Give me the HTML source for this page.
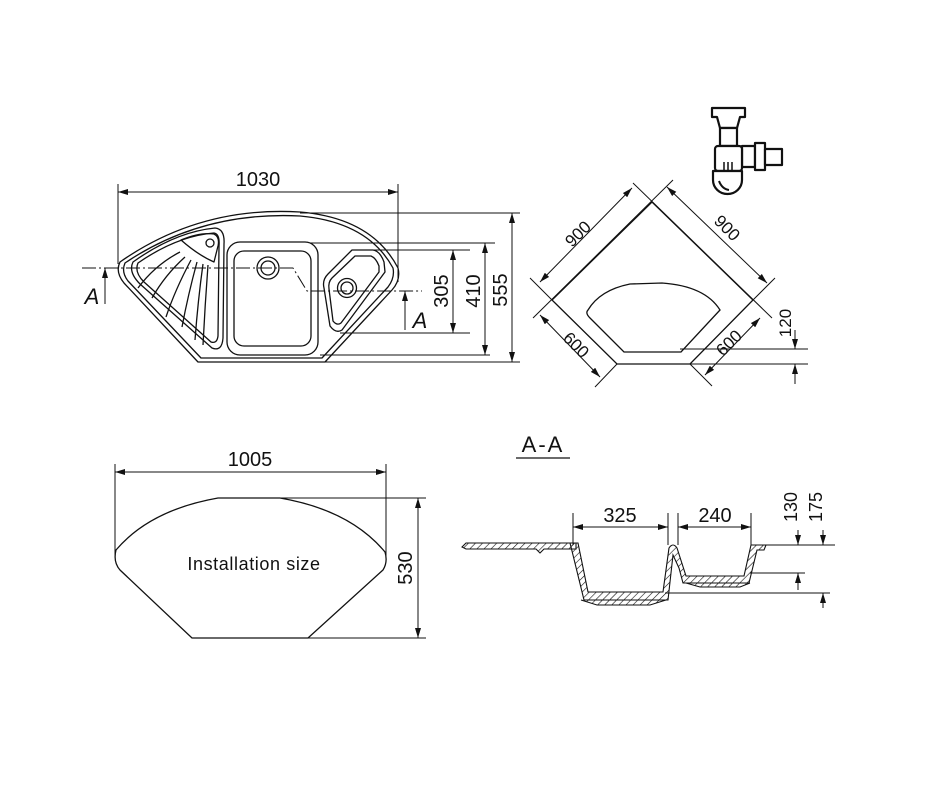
<!DOCTYPE html>
<html><head><meta charset="utf-8"><style>
html,body{margin:0;padding:0;background:#fff;width:928px;height:806px;overflow:hidden}
svg text{font-family:"Liberation Sans",sans-serif;fill:#111}
</style></head><body>
<svg width="928" height="806" viewBox="0 0 928 806" xmlns="http://www.w3.org/2000/svg">
<defs>
<marker id="ar" viewBox="0 0 10 6" refX="10" refY="3" markerWidth="10" markerHeight="6" orient="auto-start-reverse" markerUnits="userSpaceOnUse">
<path d="M0,0 L10,3 L0,6 Z" fill="#111"/></marker>
<pattern id="hat" width="5" height="5" patternUnits="userSpaceOnUse" patternTransform="rotate(45)">
<line x1="0" y1="0" x2="0" y2="5" stroke="#111" stroke-width="1.2"/></pattern>
</defs>
<g fill="none" stroke="#111" stroke-width="1.3" stroke-linejoin="round">
<path d="M120,262 Q200,206 300,212 Q372,218 398,268 Q401,280 392,290 L325,362 L198,362 L124,283 Q115,272 120,262 Z"/>
<path d="M125,263 Q202,211 300,216 Q368,222 393,268 Q395,278 388,287 L322,358 L201,358 L128,281 Q121,272 125,263 Z"/>
<path d="M133,262 Q175,232 215,228 Q225,229 224,244 L223,338 Q222,352 212,348 L140,284 Q128,272 133,262 Z"/>
<path d="M138,263 Q177,236 214,233 Q220,234 219,246 L218,336 Q217,344 211,342 L144,282 Q134,272 138,263 Z"/>
<path d="M181,240 Q200,232 214,234 Q220,237 218,246 L214,262 Q198,255 181,240 Z"/>
<circle cx="210" cy="243" r="4"/>
<path d="M180,252 Q155,265 138,288"/>
<path d="M185,257 Q165,275 152,298"/>
<path d="M191,260 Q175,290 166,317"/>
<path d="M197,262 Q188,295 182,327"/>
<path d="M203,264 Q198,300 195,340"/>
<path d="M208,265 Q205,305 203,345"/>
<rect x="227" y="242" width="91" height="113" rx="13"/>
<rect x="234" y="251" width="77" height="95" rx="10"/>
<circle cx="268" cy="268" r="11"/><circle cx="268" cy="268" r="7"/>
<path d="M352,250 L373,250 Q380,251 384,262 L385,272 L342,330 Q336,334 330,326 L324,288 Q322,280 328,274 Z"/>
<path d="M355,256 L371,256 Q376,258 379,266 L379,272 L341,323 Q337,326 333,321 L329,289 Q328,282 332,278 Z"/>
<circle cx="347" cy="288" r="9.5"/><circle cx="347" cy="288" r="6"/>
<path d="M82,268 L293,268 L307,291 L422,291" stroke-dasharray="14,3,2,3" stroke-width="1"/>
</g>
<g stroke="#111" stroke-width="1" fill="none">
<line x1="118" y1="184" x2="118" y2="264"/><line x1="398" y1="184" x2="398" y2="282"/>
<line x1="118" y1="192" x2="398" y2="192" marker-start="url(#ar)" marker-end="url(#ar)"/>
<line x1="300" y1="213" x2="520" y2="213"/><line x1="320" y1="362" x2="520" y2="362"/>
<line x1="512" y1="213" x2="512" y2="362" marker-start="url(#ar)" marker-end="url(#ar)"/>
<line x1="310" y1="243" x2="495" y2="243"/><line x1="320" y1="355" x2="490" y2="355"/>
<line x1="485" y1="243" x2="485" y2="355" marker-start="url(#ar)" marker-end="url(#ar)"/>
<line x1="368" y1="250" x2="470" y2="250"/><line x1="340" y1="333" x2="470" y2="333"/>
<line x1="453" y1="250" x2="453" y2="333" marker-start="url(#ar)" marker-end="url(#ar)"/>
<line x1="105" y1="304" x2="105" y2="268" marker-end="url(#ar)"/>
<line x1="405" y1="330" x2="405" y2="291" marker-end="url(#ar)"/>
</g>
<g font-size="20">
<text x="258" y="186" text-anchor="middle">1030</text>
<text x="92" y="304" text-anchor="middle" font-style="italic" font-size="22">A</text>
<text x="420" y="328" text-anchor="middle" font-style="italic" font-size="22">A</text>
<text transform="translate(448,291) rotate(-90)" text-anchor="middle">305</text>
<text transform="translate(480,291) rotate(-90)" text-anchor="middle">410</text>
<text transform="translate(507,290) rotate(-90)" text-anchor="middle">555</text>
</g>
<g fill="none" stroke="#111" stroke-width="1.3">
<path d="M652,202 L753,300 L690,364 L617,364 L552,300 Z"/>
<path d="M588,310 Q600,290 630,284 L662,283 Q705,286 720,310 L681,352 L624,352 L590,318 Q585,313 588,310 Z"/>
</g>
<g stroke="#111" stroke-width="1" fill="none">
<line x1="673" y1="180" x2="533" y2="318"/>
<line x1="633" y1="183" x2="772" y2="318"/>
<line x1="552" y1="300" x2="530" y2="278"/>
<line x1="753" y1="300" x2="775" y2="278"/>
<line x1="617" y1="364" x2="595" y2="387"/>
<line x1="690" y1="364" x2="712" y2="386"/>
<line x1="540" y1="282" x2="632" y2="188" marker-start="url(#ar)" marker-end="url(#ar)"/>
<line x1="667" y1="187" x2="767" y2="283" marker-start="url(#ar)" marker-end="url(#ar)"/>
<line x1="540" y1="315" x2="600" y2="377" marker-start="url(#ar)" marker-end="url(#ar)"/>
<line x1="760" y1="318" x2="705" y2="375" marker-start="url(#ar)" marker-end="url(#ar)"/>
<line x1="680" y1="349" x2="808" y2="349"/><line x1="690" y1="364" x2="808" y2="364"/>
<line x1="795" y1="330" x2="795" y2="349" marker-end="url(#ar)"/>
<line x1="795" y1="384" x2="795" y2="364" marker-end="url(#ar)"/>
</g>
<g font-size="17">
<text transform="translate(582,238) rotate(-45)" text-anchor="middle">900</text>
<text transform="translate(723,232) rotate(45)" text-anchor="middle">900</text>
<text transform="translate(572,349) rotate(45)" text-anchor="middle">600</text>
<text transform="translate(733,347) rotate(-45)" text-anchor="middle">600</text>
<text transform="translate(791,323) rotate(-90)" text-anchor="middle">120</text>
</g>
<g fill="#fff" stroke="#111" stroke-width="2.2" stroke-linejoin="round">
<path d="M712,108 L745,108 L745,117 L740,117 L737,128 L720,128 L717,117 L712,117 Z"/>
<rect x="720" y="128" width="17" height="18"/>
<rect x="742" y="146" width="13" height="21"/>
<rect x="755" y="143" width="10" height="27"/>
<rect x="765" y="149" width="17" height="16"/>
<rect x="715" y="146" width="27" height="25" rx="3"/>
<path d="M713,171 L742,171 L742,180 A14.5,14 0 0 1 713,180 Z"/>
<path d="M724,162 L724,171 M728,162 L728,171 M732,162 L732,171" stroke-width="1.5"/>
<path d="M719,181 Q722,189 729,190" stroke-width="2"/>
</g>
<path d="M116,550 Q150,510 218,498 L280,498 Q350,510 385,552 Q388,562 383,570 L308,638 L192,638 L120,570 Q113,562 116,550 Z" fill="none" stroke="#111" stroke-width="1.3"/>
<g stroke="#111" stroke-width="1" fill="none">
<line x1="115" y1="464" x2="115" y2="556"/><line x1="386" y1="464" x2="386" y2="556"/>
<line x1="115" y1="472" x2="386" y2="472" marker-start="url(#ar)" marker-end="url(#ar)"/>
<line x1="280" y1="498" x2="426" y2="498"/><line x1="308" y1="638" x2="426" y2="638"/>
<line x1="418" y1="498" x2="418" y2="638" marker-start="url(#ar)" marker-end="url(#ar)"/>
</g>
<text x="250" y="466" text-anchor="middle" font-size="20">1005</text>
<text x="254" y="570" text-anchor="middle" font-size="18" letter-spacing="0.6">Installation size</text>
<text transform="translate(412,568) rotate(-90)" text-anchor="middle" font-size="20">530</text>
<text x="543" y="452" text-anchor="middle" font-size="22" letter-spacing="2">A-A</text>
<line x1="516" y1="458" x2="570" y2="458" stroke="#111" stroke-width="1.3"/>
<g stroke="#111" stroke-width="1.1" fill="url(#hat)">
<path d="M462,547 L466,543 L576,543 L576,549 L544,549 L540,553 L536,549 L466,549 Z"/>
<path d="M570,543 L578,543 L588,592 L663,592 L669,548 Q673,542 677,548 L686,576 L744,576 L751,545 L766,545 L764,550 L757,550 L749,583 L688,583 L683,583 L679,568 L673,555 L668,600 L584,600 L572,551 Z"/>
</g>
<path d="M581,600 L597,605 L650,605 L666,600" fill="url(#hat)" stroke="#111" stroke-width="1"/>
<path d="M686,583 L700,587 L740,587 L750,583" fill="url(#hat)" stroke="#111" stroke-width="1"/>
<g stroke="#111" stroke-width="1" fill="none">
<line x1="573" y1="513" x2="573" y2="545"/><line x1="668" y1="513" x2="668" y2="545"/>
<line x1="678" y1="513" x2="678" y2="545"/><line x1="751" y1="513" x2="751" y2="545"/>
<line x1="573" y1="527" x2="668" y2="527" marker-start="url(#ar)" marker-end="url(#ar)"/>
<line x1="678" y1="527" x2="751" y2="527" marker-start="url(#ar)" marker-end="url(#ar)"/>
<line x1="765" y1="545" x2="835" y2="545"/><line x1="750" y1="573" x2="805" y2="573"/>
<line x1="665" y1="593" x2="830" y2="593"/>
<line x1="798" y1="530" x2="798" y2="545" marker-end="url(#ar)"/>
<line x1="798" y1="590" x2="798" y2="573" marker-end="url(#ar)"/>
<line x1="823" y1="530" x2="823" y2="545" marker-end="url(#ar)"/>
<line x1="823" y1="608" x2="823" y2="593" marker-end="url(#ar)"/>
</g>
<g font-size="20">
<text x="620" y="522" text-anchor="middle">325</text>
<text x="715" y="522" text-anchor="middle">240</text>
<text transform="translate(797,507) rotate(-90)" text-anchor="middle" font-size="18">130</text>
<text transform="translate(822,507) rotate(-90)" text-anchor="middle" font-size="18">175</text>
</g>
</svg>
</body></html>
